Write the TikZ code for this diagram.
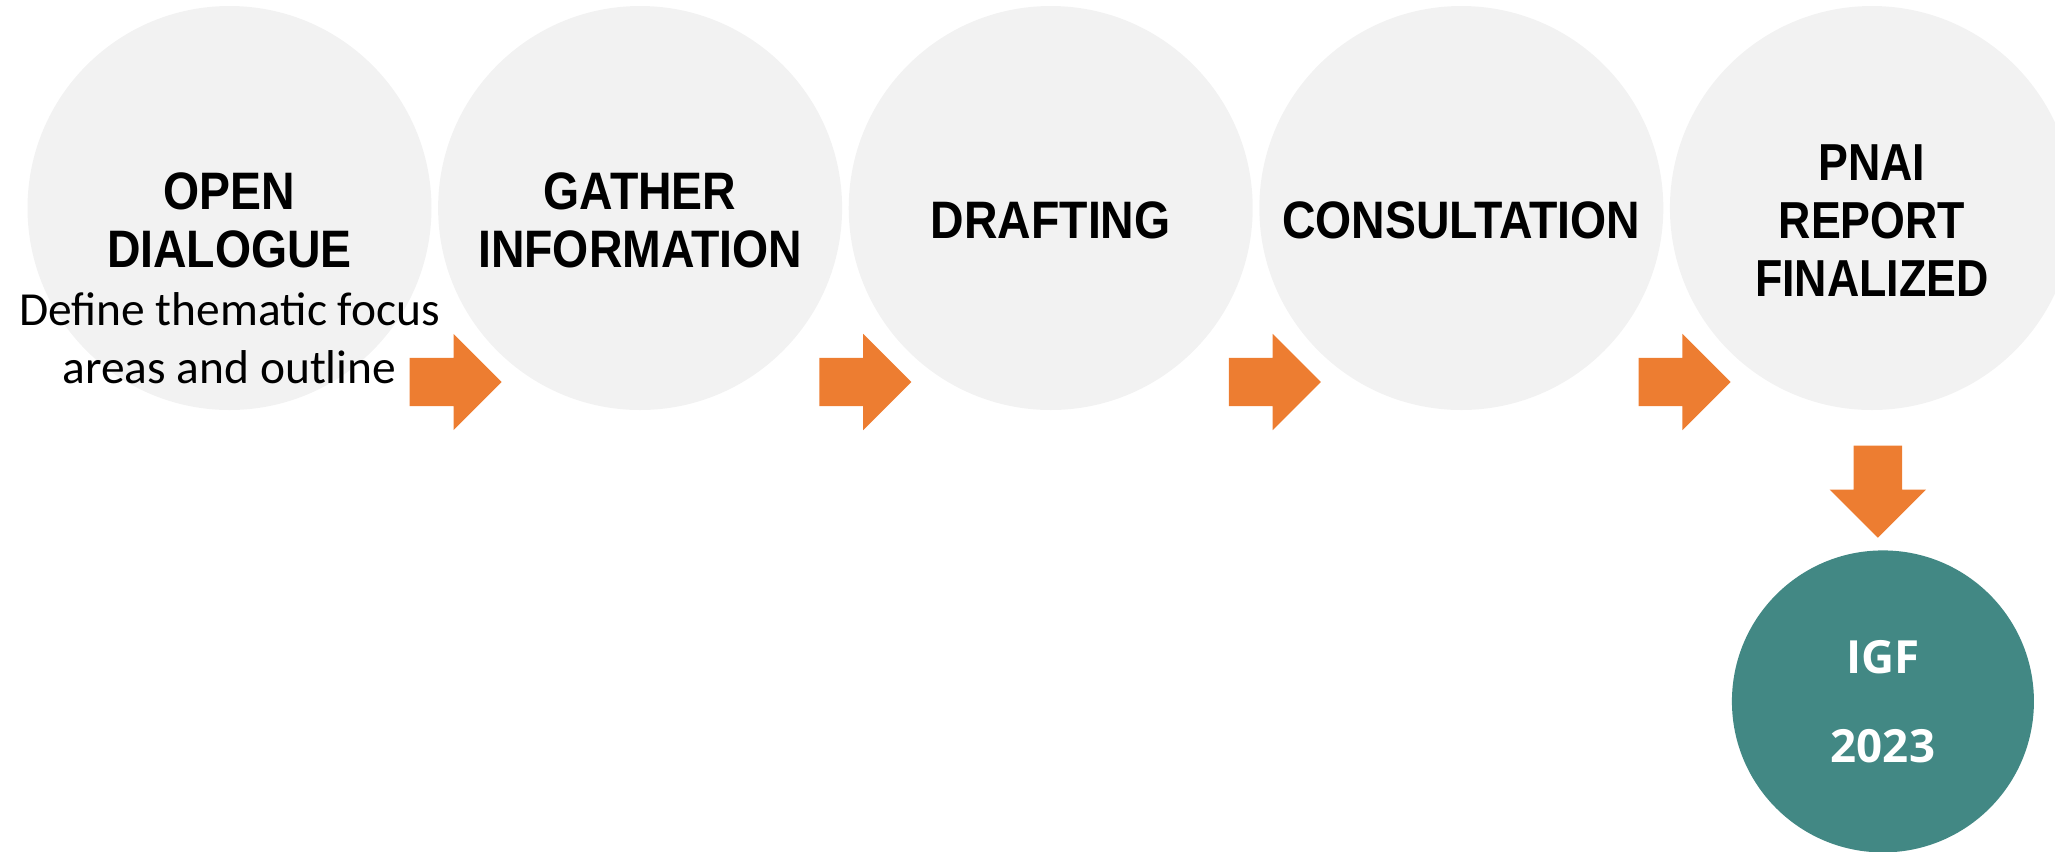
\documentclass[tikz,border=0pt]{standalone}
\usepackage{fontspec}
\usepackage{tikz}
\usepackage{xcolor}
\usetikzlibrary{shapes,arrows,positioning,shapes.geometric}
\setmainfont{Liberation Sans}
\newfontfamily\stagefont{Liberation Sans}[FakeStretch=0.88]
\newfontfamily\finalfont{Liberation Sans}[FakeStretch=0.86]
\newfontfamily\notefont{Carlito}
\newfontfamily\igffont{Open Sans}
\definecolor{stagegray}{RGB}{242, 242, 242}
\definecolor{accent}{RGB}{237, 125, 49}
\definecolor{igfteal}{RGB}{66, 136, 132}
\tikzstyle{stage} = [
    circle,
    minimum size=40.4mm,
    inner sep=0,
    fill=stagegray
]
\tikzstyle{title} = [
    align=center,
    inner sep=0,
    font=\stagefont\bfseries\fontsize{15}{16.5}\selectfont
]
\tikzstyle{flow} = [
    single arrow,
    single arrow head extend=2.4mm,
    minimum height=9.2mm,
    inner xsep=0,
    inner ysep=2.35mm,
    fill=accent
]
\tikzstyle{goal} = [
    circle,
    minimum size=30.2mm,
    inner sep=0,
    fill=igfteal,
    text=white,
    align=center,
    font=\igffont\bfseries\fontsize{13}{25.3}\selectfont
]

\begin{document}
\begin{tikzpicture}
    \useasboundingbox (0,0) rectangle (205.5mm,-85.1mm);
    \clip (0,0) rectangle (205.5mm,-85.1mm);
    \node[stage] (c1) at (22.95mm,-20.8mm) {};
    \node[stage, right=0.52mm of c1] (c2) {};
    \node[stage, right=0.52mm of c2] (c3) {};
    \node[stage, right=0.52mm of c3] (c4) {};
    \node[stage, right=0.52mm of c4] (c5) {};
    \node[title, anchor=north] (t1) at ([yshift=3.6mm]c1.center) {OPEN\\DIALOGUE\\
        {\notefont\mdseries\fontsize{13.5}{16.3}\selectfont Define thematic focus}\\
        {\notefont\mdseries\fontsize{13.5}{16.3}\selectfont areas and outline}};
    \node[title] (t2) at ([yshift=-1.25mm]c2.center) {GATHER\\INFORMATION};
    \node[title] (t3) at ([yshift=-1.25mm]c3.center) {DRAFTING};
    \node[title] (t4) at ([yshift=-1.25mm]c4.center) {CONSULTATION};
    \node[title, font=\finalfont\bfseries\fontsize{14.8}{16.6}\selectfont] (t5) at ([yshift=-1.25mm]c5.center) {PNAI\\REPORT\\FINALIZED};
    \foreach \n/\dx in {1/17.95,2/17.85,3/17.75,4/17.65}
        \node[flow, anchor=tail] (a\n) at ([xshift=\dx mm, yshift=-17.4mm]c\n.center) {};
    \node[flow, rotate=-90, anchor=tail] (a5) at ([xshift=0.6mm, yshift=-23.7mm]c5.center) {};
    \node[goal, below=1.1mm of a5.tip, xshift=0.5mm] (igf) {IGF\\2023};
\end{tikzpicture}
\end{document}
